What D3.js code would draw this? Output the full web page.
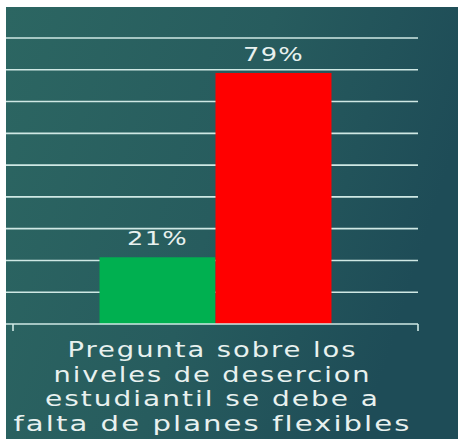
<!DOCTYPE html>
<html>
<head>
<meta charset="utf-8">
<script src="https://cdn.jsdelivr.net/npm/d3@7"></script>
<style>
  html, body { margin: 0; padding: 0; background: #ffffff; }
  svg { display: block; }
</style>
</head>
<body>
<svg id="chart" width="458" height="439"></svg>
<script>
// Survey answer shares for the single question shown
const categories = ["Pregunta sobre los niveles de desercion estudiantil se debe a falta de planes flexibles"];
const categoryLines = ["Pregunta sobre los", "niveles de desercion", "estudiantil se debe a", "falta de planes flexibles"];
const series = ["Sí", "No"];
const values = [0.21, 0.79];
const valueLabels = ["21%", "79%"];
const seriesColors = ["#00b050", "#ff0000"];
const gridTicks = [0.1, 0.2, 0.3, 0.4, 0.5, 0.6, 0.7, 0.8, 0.9];

const W = 458, H = 439;
const svg = d3.select("#chart");

// slide background: teal gradient, framed by a thin white margin at top/left
const defs = svg.append("defs");
const grad = defs.append("linearGradient")
  .attr("id", "bg").attr("x1", "0%").attr("y1", "0%").attr("x2", "100%").attr("y2", "30%");
grad.append("stop").attr("offset", "0%").attr("stop-color", "#2c6662");
grad.append("stop").attr("offset", "55%").attr("stop-color", "#275c5e");
grad.append("stop").attr("offset", "100%").attr("stop-color", "#1e4c57");

svg.append("rect").attr("x", 6).attr("y", 7).attr("width", W - 6).attr("height", H - 7)
  .attr("fill", "url(#bg)");

const plot = { left: 13, right: 418, top: 38, bottom: 324 };
const lineColor = "#cfe8e4";
const textColor = "#e8f1ef";
const font = "'DejaVu Sans', Lato, sans-serif";

const y = d3.scaleLinear().domain([0, 0.9]).range([plot.bottom, plot.top]);
const x0 = d3.scaleBand().domain(categories).range([plot.left, plot.right]).padding(0);
const x1 = d3.scaleBand().domain(series).range([0, x0.bandwidth()])
  .paddingInner(0).paddingOuter(0.746);

// horizontal gridlines
svg.append("g").selectAll("line").data(gridTicks).join("line")
  .attr("x1", 6).attr("x2", plot.right)
  .attr("y1", d => y(d)).attr("y2", d => y(d))
  .attr("stroke", lineColor).attr("stroke-width", 1.6);

// bars
const g = svg.append("g").attr("transform", `translate(${x0(categories[0])},0)`);
g.selectAll("rect").data(values).join("rect")
  .attr("x", (d, i) => x1(series[i]))
  .attr("width", x1.bandwidth())
  .attr("y", d => y(d))
  .attr("height", d => y(0) - y(d))
  .attr("fill", (d, i) => seriesColors[i]);

// value labels
g.selectAll("text").data(values).join("text")
  .attr("x", (d, i) => x1(series[i]) + x1.bandwidth() / 2)
  .attr("y", d => y(d) - 12)
  .attr("text-anchor", "middle")
  .attr("fill", textColor)
  .attr("font-family", font)
  .attr("font-size", 20)
  .attr("letter-spacing", 1)
  .attr("textLength", 61)
  .attr("lengthAdjust", "spacingAndGlyphs")
  .text((d, i) => valueLabels[i]);

// category axis
const axis = svg.append("g");
axis.append("line")
  .attr("x1", 6).attr("x2", plot.right)
  .attr("y1", y(0)).attr("y2", y(0))
  .attr("stroke", lineColor).attr("stroke-width", 1.6);
axis.selectAll("line.tick").data([plot.left, plot.right]).join("line")
  .attr("class", "tick")
  .attr("x1", d => d).attr("x2", d => d)
  .attr("y1", y(0)).attr("y2", y(0) + 7)
  .attr("stroke", lineColor).attr("stroke-width", 1.6);

// wrapped category label, each line spread to the width of the wide slide face
const lineWidths = [290, 318, 335, 398];
const cx = x0(categories[0]) + x0.bandwidth() / 2 - 3;
axis.selectAll("text.cat").data(categoryLines).join("text")
  .attr("class", "cat")
  .attr("text-anchor", "middle")
  .attr("fill", textColor)
  .attr("font-family", font)
  .attr("font-size", 21)
  .attr("letter-spacing", 1.5)
  .attr("x", cx)
  .attr("y", (d, i) => 357 + i * 24.5)
  .attr("textLength", (d, i) => lineWidths[i])
  .attr("lengthAdjust", "spacingAndGlyphs")
  .text(d => d);
</script>
</body>
</html>
